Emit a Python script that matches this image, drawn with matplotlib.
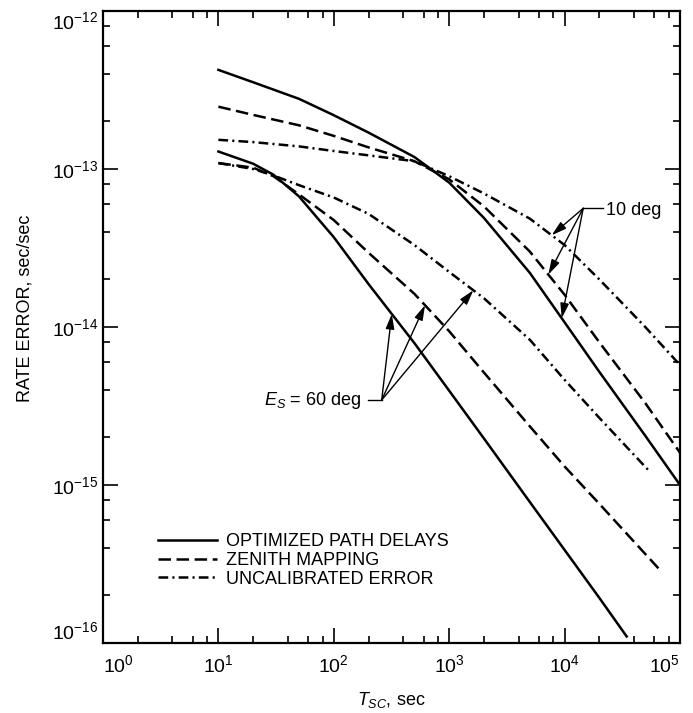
import numpy as np
import matplotlib
matplotlib.use('Agg')
import matplotlib.pyplot as plt
from matplotlib.ticker import FixedLocator, LogLocator, NullFormatter

plt.rcParams['font.family'] = ['Liberation Sans', 'DejaVu Sans']
plt.rcParams['mathtext.fontset'] = 'custom'
plt.rcParams['mathtext.rm'] = 'Liberation Sans'
plt.rcParams['mathtext.it'] = 'Liberation Sans:italic'
plt.rcParams['lines.scale_dashes'] = False

# Data (T_sc in sec, rate error in sec/sec)
# elevation 10 deg
t_10 = [10, 20, 50, 100, 200, 500, 1000, 2000, 5000, 1e4, 2e4, 5e4, 1e5]
opt_10 = [4.24e-13, 3.54e-13, 2.78e-13, 2.19e-13, 1.70e-13, 1.19e-13, 8.2e-14,
          4.9e-14, 2.2e-14, 1.07e-14, 5.2e-15, 2.05e-15, 1.0e-15]
zen_10 = [2.48e-13, 2.20e-13, 1.89e-13, 1.62e-13, 1.37e-13, 1.12e-13, 8.6e-14,
          5.8e-14, 3.0e-14, 1.6e-14, 8.0e-15, 3.3e-15, 1.6e-15]
unc_10 = [1.53e-13, 1.48e-13, 1.39e-13, 1.30e-13, 1.22e-13, 1.12e-13, 9.0e-14,
          7.0e-14, 4.85e-14, 3.3e-14, 2.0e-14, 1.0e-14, 5.75e-15]

# elevation 60 deg
t_opt_60 = [10, 20, 30, 50, 100, 200, 500, 1000, 2000, 5000, 1e4, 2e4, 3.45e4]
opt_60 = [1.29e-13, 1.08e-13, 9.2e-14, 6.7e-14, 3.7e-14, 1.87e-14, 7.9e-15,
          3.95e-15, 1.97e-15, 7.8e-16, 3.88e-16, 1.93e-16, 1.1e-16]
t_zen_60 = [10, 20, 30, 50, 100, 200, 500, 1000, 2000, 5000, 1e4, 2e4, 5e4, 6.5e4]
zen_60 = [1.09e-13, 1.02e-13, 9.0e-14, 6.9e-14, 4.75e-14, 2.95e-14, 1.62e-14,
          9.4e-15, 5.15e-15, 2.35e-15, 1.31e-15, 7.6e-16, 3.66e-16, 2.97e-16]
t_unc_60 = [10, 20, 30, 50, 100, 200, 500, 1000, 2000, 5000, 1e4, 2e4, 5.5e4]
unc_60 = [1.09e-13, 1.0e-13, 9.1e-14, 7.9e-14, 6.6e-14, 5.2e-14, 3.3e-14,
          2.23e-14, 1.52e-14, 8.3e-15, 4.63e-15, 2.66e-15, 1.21e-15]

labels = ['OPTIMIZED PATH DELAYS', 'ZENITH MAPPING', 'UNCALIBRATED ERROR']
x_ticks = [1, 10, 100, 1e3, 1e4, 1e5]
y_ticks = [1e-16, 1e-15, 1e-14, 1e-13, 1e-12]

solid = '-'
dashed = (0, (9, 4))
dashdot = (0, (7, 3, 1.5, 3))
lw = 1.8


def on_curve(ts, ys, tq):
    # point on a drawn curve (log-log), used as an arrow tip
    return tq, 10 ** np.interp(np.log10(tq), np.log10(ts), np.log10(ys))


fig = plt.figure(figsize=(6.93, 7.13), dpi=100)
ax = fig.add_axes([103 / 693, 1 - 643 / 713, 577 / 693, 632 / 713])

ax.plot(t_10, opt_10, color='black', lw=lw, linestyle=solid, label=labels[0])
ax.plot(t_10, zen_10, color='black', lw=lw, linestyle=dashed, label=labels[1])
ax.plot(t_10, unc_10, color='black', lw=lw, linestyle=dashdot, label=labels[2])
ax.plot(t_opt_60, opt_60, color='black', lw=lw, linestyle=solid)
ax.plot(t_zen_60, zen_60, color='black', lw=lw, linestyle=dashed)
ax.plot(t_unc_60, unc_60, color='black', lw=lw, linestyle=dashdot)

ax.set_xscale('log')
ax.set_yscale('log')
ax.set_xlim(1, 1e5)
ax.set_ylim(1e-16, 1e-12)

ax.xaxis.set_major_locator(FixedLocator(x_ticks))
ax.yaxis.set_major_locator(FixedLocator(y_ticks))
for axis in (ax.xaxis, ax.yaxis):
    axis.set_minor_locator(LogLocator(base=10, subs=(2, 4, 6, 8), numticks=10))
    axis.set_minor_formatter(NullFormatter())

ax.tick_params(which='both', direction='in', top=True, right=True, width=1.2)
ax.tick_params(which='major', length=11, labelsize=14)
ax.tick_params(which='minor', length=5)
ax.tick_params(axis='x', which='major', pad=8)
ax.tick_params(axis='y', which='major', pad=3.5)
for s in ax.spines.values():
    s.set_linewidth(1.6)

# end labels sit inside the frame, as in the original
fig.canvas.draw()
xt = ax.xaxis.get_major_ticks()
xt[0].label1.set_horizontalalignment('left')
xt[-1].label1.set_horizontalalignment('right')
yt = ax.yaxis.get_major_ticks()
yt[-1].label1.set_verticalalignment('top')
yt[0].label1.set_verticalalignment('bottom')

ax.set_xlabel(r'$T_{SC}$, sec', fontsize=13, va='top')
ax.xaxis.set_label_coords(0.5, -0.075)
ax.set_ylabel('RATE ERROR, sec/sec', fontsize=13)
ax.yaxis.set_label_coords(-0.12, 0.53)

ax.legend(loc='upper left', bbox_to_anchor=(0.095, 0.174), frameon=False,
          fontsize=13, handlelength=3.3, handletextpad=0.45, labelspacing=0.1,
          borderpad=0, borderaxespad=0)

arrow = dict(arrowstyle='-|>,head_length=0.45,head_width=0.13', color='black',
             lw=1, shrinkA=0, shrinkB=0, mutation_scale=20)

# 10 deg annotation
v10 = (14500, 5.64e-14)
ax.plot([v10[0], 21500], [v10[1], v10[1]], color='black', lw=1)
ax.text(22800, 5.5e-14, '10 deg', fontsize=13, ha='left', va='center')
for ts, ys, tq in [(t_10, unc_10, 7730), (t_10, zen_10, 7230), (t_10, opt_10, 9440)]:
    ax.annotate('', xy=on_curve(ts, ys, tq), xytext=v10, arrowprops=arrow)

# 60 deg annotation
v60 = (260, 3.45e-15)
ax.plot([199, v60[0]], [v60[1], v60[1]], color='black', lw=1)
ax.text(172, 3.45e-15, r'$E_S$ = 60 deg', fontsize=13, ha='right', va='center')
for ts, ys, tq in [(t_opt_60, opt_60, 318), (t_zen_60, zen_60, 617), (t_unc_60, unc_60, 1620)]:
    ax.annotate('', xy=on_curve(ts, ys, tq), xytext=v60, arrowprops=arrow)

fig.savefig('out.png', dpi=100, facecolor='white')
